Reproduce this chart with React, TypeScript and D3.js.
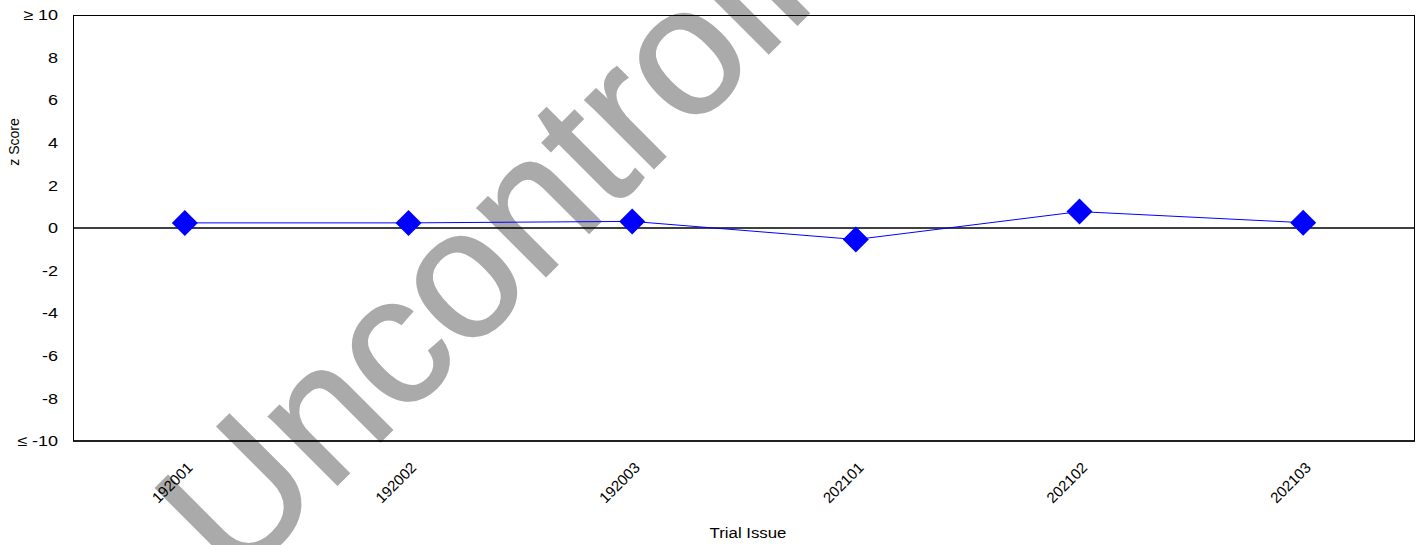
import * as d3 from 'd3';

const issues = ['192001', '192002', '192003', '202101', '202102', '202103'];
const zScores = [0.24, 0.24, 0.31, -0.54, 0.77, 0.25];
const yTicks = [-10, -8, -6, -4, -2, 0, 2, 4, 6, 8, 10];
const yTickLabels = ['≤ -10', '-8', '-6', '-4', '-2', '0', '2', '4', '6', '8', '≥ 10'];
const watermark = 'Uncontrolled';

const W = 1416;
const H = 545;
const FONT = '"Liberation Sans", Arial, sans-serif';

export default function App() {
  const x = d3.scaleBand<string>().domain(issues).range([73, 1415]);
  const y = d3.scaleLinear().domain([-10, 10]).range([441, 15]);
  const cx = (d: string) => (x(d) ?? 0) + x.bandwidth() / 2;

  const line = d3
    .line<number>()
    .x((_, i) => cx(issues[i]))
    .y(d => y(d));

  // square turned 45deg = diamond marker
  const marker = d3.symbol().type(d3.symbolSquare).size(338)();

  return (
    <svg
      width={W}
      height={H}
      style={{ position: 'absolute', left: 0, top: 0, display: 'block', background: '#fff' }}
      fontFamily={FONT}
    >
      {/* watermark sits behind the chart */}
      <text
        transform="translate(235,587) rotate(-45)"
        fontSize={183}
        fill="#aaaaaa"
        stroke="#aaaaaa"
        strokeWidth={2}
        fontFamily={FONT}
      >
        {watermark}
      </text>

      <rect
        x={73.5}
        y={15.5}
        width={1341}
        height={425.5}
        fill="none"
        stroke="#000"
        strokeWidth={1}
      />
      <line x1={73} x2={1415} y1={441} y2={441} stroke="#000" strokeWidth={1.5} />
      <line x1={73} x2={1415} y1={y(0)} y2={y(0)} stroke="#000" strokeWidth={1.5} />

      {yTicks.map((t, i) => (
        <text
          key={t}
          transform={`translate(58,${y(t)}) scale(1.2,1)`}
          dy="0.35em"
          textAnchor="end"
          fontSize={15}
          fill="#000"
        >
          {yTickLabels[i]}
        </text>
      ))}

      {issues.map(d => (
        <text
          key={d}
          transform={`translate(${cx(d) + 5},${465}) rotate(-45)`}
          textAnchor="end"
          dy="0.35em"
          fontSize={15}
          fill="#000"
        >
          {d}
        </text>
      ))}

      <text
        transform="translate(748,538) scale(1.12,1)"
        textAnchor="middle"
        fontSize={15}
        fill="#000"
      >
        Trial Issue
      </text>
      <text
        transform="translate(19,142) rotate(-90)"
        textAnchor="middle"
        fontSize={14}
        fill="#000"
      >
        z Score
      </text>

      <path d={line(zScores) ?? ''} fill="none" stroke="#0000ff" strokeWidth={1} />
      {zScores.map((v, i) => (
        <path
          key={issues[i]}
          d={marker ?? ''}
          transform={`translate(${cx(issues[i])},${y(v)}) rotate(45)`}
          fill="#0000ff"
        />
      ))}
    </svg>
  );
}
